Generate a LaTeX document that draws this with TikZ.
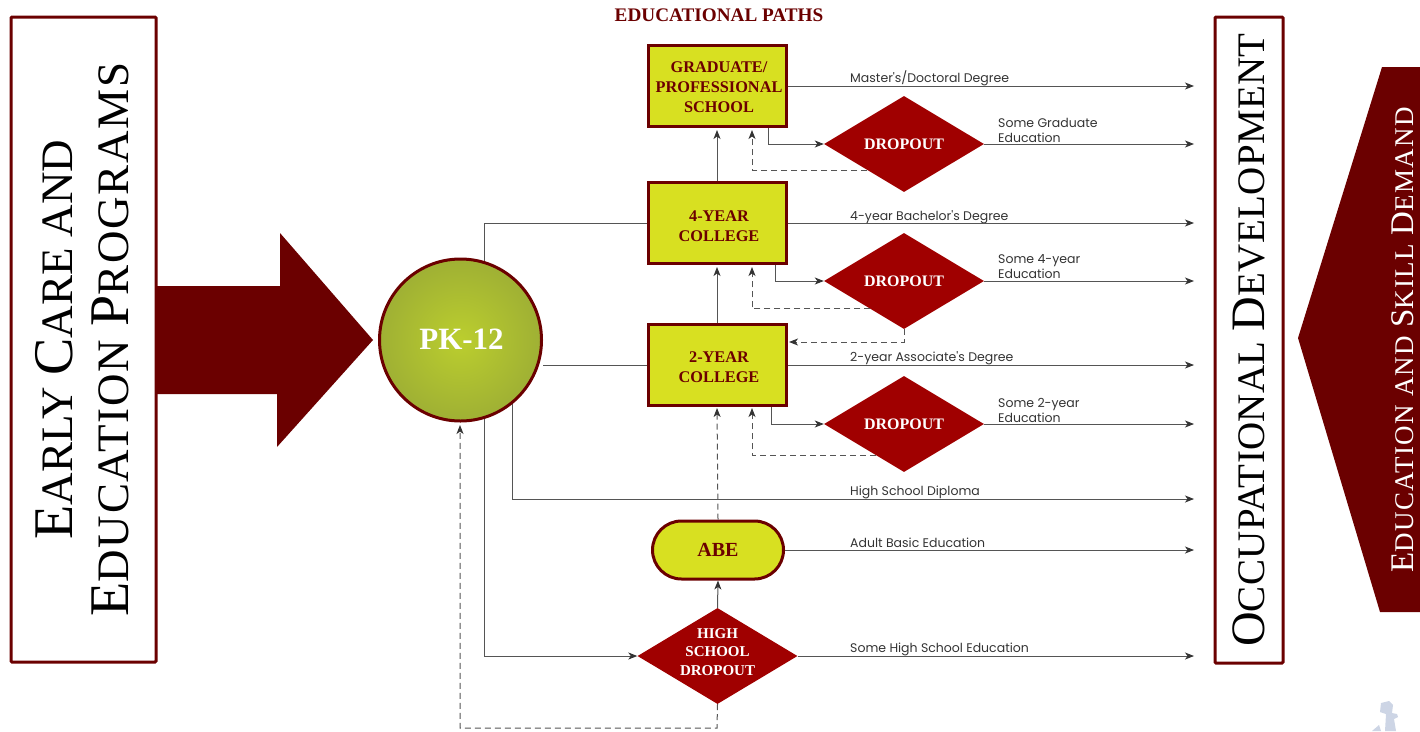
\documentclass[tikz,border=0pt]{standalone}
\usepackage{fontspec}
\setmainfont{Liberation Serif}
\newfontfamily\pathfont{Poppins}
\usetikzlibrary{arrows.meta,calc,shapes.geometric,shapes.misc}
\definecolor{maroon}{HTML}{6B0000}
\definecolor{dropred}{HTML}{A00000}
\definecolor{boxyellow}{HTML}{D8E021}
\definecolor{linegray}{HTML}{555555}
\definecolor{pkinner}{HTML}{BBCE2E}
\definecolor{pkouter}{HTML}{9FB034}
\definecolor{figgray}{HTML}{CDD5E5}
\newcommand{\capL}[1]{{\fontsize{56}{56}\selectfont #1}}
\newcommand{\capM}[1]{{\fontsize{48}{48}\selectfont #1}}
\newcommand{\capS}[1]{{\fontsize{33}{33}\selectfont #1}}
\newcommand{\boxlines}[2][-7pt]{\smash{\raisebox{#1}{\begin{tabular}{@{}c@{}}#2\end{tabular}}}}
\tikzset{
  titlebox/.style={draw=maroon,line width=3pt,rounded corners=1pt,fill=white,align=center,rotate=90,inner sep=0pt},
  school/.style={draw=maroon,line width=3pt,fill=boxyellow,text=maroon,minimum width=138pt,minimum height=81pt,inner sep=0pt,font=\fontsize{16.3}{20}\selectfont\bfseries},
  dropbox/.style={diamond,fill=dropred,text=white,minimum width=160pt,minimum height=96pt,inner sep=0pt,font=\fontsize{16}{18.5}\selectfont\bfseries},
  pathlabel/.style={anchor=west,inner sep=0pt,align=left,font=\pathfont\fontsize{12.5}{15}\selectfont,text=black!80},
  link/.style={draw=linegray,line width=1pt},
  back/.style={link,dash pattern=on 6pt off 4pt}
}
\begin{document}
\begin{tikzpicture}[x=1pt,y=-1pt,>={Stealth[length=9pt,width=7pt,inset=2.5pt,color=black!80]}]
\useasboundingbox (0,0) rectangle (1420,731);
% side panels
\fill[maroon] (157,286) -- (280,286) -- (280,233) -- (373,340) -- (277,447) -- (277,394) -- (157,394) -- cycle;
\fill[maroon] (1382,67) -- (1420,67) -- (1420,612) -- (1380,612) -- (1298,338) -- cycle;
\node[titlebox,minimum width=645pt,minimum height=145pt,font=\fontsize{45}{56}\selectfont] (ecep) at (83.5,339.5)
  {\raisebox{3pt}{\capL{E}ARLY \capL{C}ARE AND}\\\raisebox{3pt}{\addfontfeature{LetterSpace=4}\capL{E}DUCATION \capL{P}ROGRAMS}};
\node[titlebox,minimum width=646pt,minimum height=68pt,font=\fontsize{39}{48}\selectfont] (occdev) at (1249,340)
  {\addfontfeature{LetterSpace=0.9}\capM{O}CCUPATIONAL \capM{D}EVELOPMENT};
\node[rotate=90,text=white,inner sep=0pt,font=\fontsize{27}{33}\selectfont] (demand) at (1402.5,340)
  {\addfontfeature{LetterSpace=5}\capS{E}DUCATION AND \capS{S}KILL \capS{D}EMAND};
\node[text=maroon,inner sep=0pt,font=\fontsize{19.2}{22}\selectfont\bfseries] (title) at (719,15) {EDUCATIONAL PATHS};

% nodes
\node[circle,draw=maroon,line width=3pt,inner color=pkinner,outer color=pkouter,minimum size=162pt,inner sep=0pt,text=white,font=\fontsize{31}{33}\selectfont\bfseries] (pk) at (460.5,340) {\hspace{2pt}\raisebox{1.5pt}{PK-12}};
\node[school] (grad) at (717,86) {\hspace{4pt}\boxlines{GRADUATE/\\PROFESSIONAL\\SCHOOL}};
\node[school] (fouryr) at (717,223) {\hspace{4pt}\boxlines[-8.5pt]{4-YEAR\\COLLEGE}};
\node[school] (twoyr) at (717,365) {\hspace{4pt}\boxlines[-7.5pt]{2-YEAR\\COLLEGE}};
\node[rounded rectangle,draw=maroon,line width=3pt,fill=boxyellow,text=maroon,minimum width=131pt,minimum height=58pt,inner sep=0pt,font=\fontsize{20}{22}\selectfont\bfseries] (abe) at (718,550) {\raisebox{-2pt}{ABE}};
\node[dropbox] (dropa) at (904,144) {DROPOUT};
\node[dropbox] (dropb) at (904,281) {DROPOUT};
\node[dropbox] (dropc) at (904,424) {DROPOUT};
\node[dropbox,font=\fontsize{15}{18.5}\selectfont\bfseries] (hsdrop) at (717.5,656) {\boxlines[-0.5pt]{HIGH\\SCHOOL\\DROPOUT}};

% path labels
\node[pathlabel] (lmasters) at (850,78.5) {Master's/Doctoral Degree};
\node[pathlabel] (lsomegrad) at (998,130) {Some Graduate\\Education};
\node[pathlabel] (lbach) at (850,217) {4-year Bachelor's Degree};
\node[pathlabel] (lsomefour) at (998,267) {Some 4-year\\Education};
\node[pathlabel] (lassoc) at (850,358) {2-year Associate's Degree};
\node[pathlabel] (lsometwo) at (998,410) {Some 2-year\\Education};
\node[pathlabel] (ldiploma) at (850,492) {High School Diploma};
\node[pathlabel] (labe) at (850,543) {Adult Basic Education};
\node[pathlabel] (lsomehs) at (850,649) {Some High School Education};

% free ends
\coordinate (endmasters) at (1194,86);
\coordinate (endsomegrad) at (1194,144);
\coordinate (endbach) at (1194,223);
\coordinate (endsomefour) at (1194,281);
\coordinate (endassoc) at (1194,365);
\coordinate (endsometwo) at (1194,424);
\coordinate (enddiploma) at (1194,499);
\coordinate (endabe) at (1194,550);
\coordinate (endsomehs) at (1194,656);
\coordinate (gradback) at (752,130);
\coordinate (fourback) at (752,267);
\coordinate (twoback) at (752,408);
\coordinate (pkback) at (460,425);
\coordinate (twoin) at (789,342);
\coordinate (abeback) at (717,408);
\coordinate (fouron) at (717,267);
\coordinate (gradon) at (717,130);
\coordinate (hsbottom) at (717,728);

% solid connectors
\draw[link,->] (grad.east) -- (endmasters);
\draw[link,->] (dropa.east) -- (endsomegrad);
\draw[link,->] (fouryr.east) -- (endbach);
\draw[link,->] (dropb.east) -- (endsomefour);
\draw[link,->] (twoyr.east) -- (endassoc);
\draw[link,->] (dropc.east) -- (endsometwo);
\draw[link,->] (abe.east) -- (endabe);
\draw[link,->] (hsdrop.east) -- (endsomehs);
\draw[link,->] (grad.south -| 768,0) |- (dropa.west);
\draw[link,->] (fouryr.south -| 775,0) |- (dropb.west);
\draw[link,->] (twoyr.south -| 771,0) |- (dropc.west);
\draw[link,->] (fouryr.north) -- (gradon);
\draw[link,->] (twoyr.north) -- (fouron);
\draw[link,->] (hsdrop.north) -- (abe.south);
\draw[link] (pk.east |- twoyr.west) -- (twoyr.west);
\draw[link] (fouryr.west) -| (pk.73);
\draw[link,->] (pk.287) |- (hsdrop.west);
\draw[link,->] (pk.309) |- (enddiploma);

% dashed returns
\draw[back,->] ($(dropa.west)!0.54!(dropa.south)$) -| (gradback);
\draw[back,->] ($(dropb.west)!0.58!(dropb.south)$) -| (fourback);
\draw[back,->] ($(dropc.west)!0.65!(dropc.south)$) -| (twoback);
\draw[back,->] (dropb.south) |- (twoin);
\draw[back,->] (abe.north) -- (abeback);
\draw[back,->] (hsdrop.south) -- (hsbottom) -| (pkback);

% figure in the corner
\fill[figgray] (1381,703) -- (1389,701) -- (1393,705) -- (1392,713) -- (1397,714) -- (1398,717) -- (1394,719) -- (1396,731) -- (1385,731) -- (1386,714) -- (1380,712) -- cycle;
\fill[figgray] (1372,731) -- (1379,725) -- (1381,731) -- cycle;
\end{tikzpicture}
\end{document}
